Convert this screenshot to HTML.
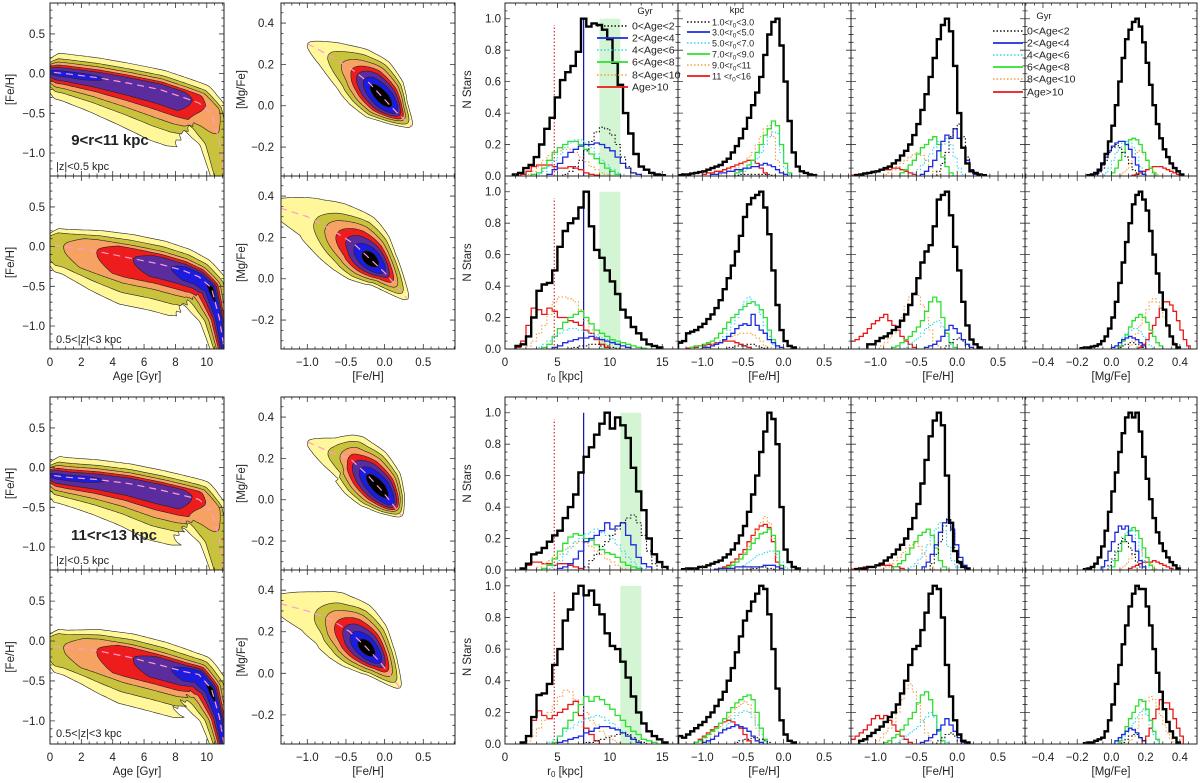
<!DOCTYPE html>
<html><head><meta charset="utf-8"><style>
html,body{margin:0;padding:0;background:#fff}
svg{display:block;font-family:"Liberation Sans",sans-serif}
</style></head><body>
<svg id="fig" width="1200" height="783" viewBox="0 0 1200 783" xmlns="http://www.w3.org/2000/svg"></svg>
<script>
// ---------------- histogram data: [all, age/r0 bin1..bin6] ----------------
const A1_start=[0.75,5.5,4.0,3.0,2.5,2.0,1.5];
const A1_series=[[0.01,0.02,0.05,0.07,0.12,0.2,0.3,0.37,0.5,0.61,0.66,0.7,0.79,1.0,0.95,0.97,0.96,0.93,0.87,0.72,0.58,0.4,0.27,0.14,0.06,0.04,0.02,0.01,0.005],
[0.01,0.03,0.06,0.1,0.16,0.22,0.28,0.31,0.3,0.26,0.2,0.12,0.06,0.02],
[0.01,0.04,0.08,0.12,0.15,0.17,0.19,0.2,0.2,0.21,0.2,0.18,0.16,0.12,0.08,0.05,0.02,0.01],
[0.01,0.03,0.06,0.1,0.14,0.18,0.21,0.23,0.23,0.21,0.18,0.14,0.1,0.07,0.04,0.02,0.01],
[0.01,0.02,0.05,0.1,0.15,0.18,0.2,0.22,0.22,0.2,0.17,0.14,0.11,0.08,0.05,0.03,0.01],
[0.01,0.03,0.06,0.1,0.13,0.15,0.16,0.17,0.17,0.15,0.12,0.09,0.06,0.04,0.02,0.01],
[0.01,0.03,0.06,0.07,0.07,0.07,0.06,0.05,0.05,0.06,0.05,0.04,0.02,0.01,0.005]];
const B1_start=[1.0,6.0,4.5,3.0,3.5,2.0,1.0];
const B1_series=[[0.02,0.03,0.08,0.2,0.37,0.41,0.42,0.5,0.65,0.75,0.8,0.83,0.9,1.0,0.78,0.63,0.58,0.5,0.43,0.35,0.25,0.2,0.14,0.1,0.06,0.03,0.02,0.01],
[0.005,0.01,0.02,0.02,0.03,0.03,0.02,0.02,0.01,0.005],
[0.01,0.02,0.04,0.05,0.06,0.07,0.07,0.08,0.07,0.06,0.05,0.04,0.03,0.02,0.01],
[0.01,0.03,0.05,0.08,0.1,0.12,0.13,0.13,0.12,0.11,0.1,0.09,0.07,0.06,0.05,0.03,0.02,0.01],
[0.01,0.03,0.08,0.13,0.17,0.2,0.22,0.24,0.2,0.16,0.12,0.1,0.08,0.06,0.05,0.04,0.03,0.02,0.01,0.005],
[0.02,0.05,0.1,0.15,0.22,0.3,0.33,0.33,0.32,0.3,0.25,0.18,0.12,0.08,0.05,0.03,0.01],
[0.01,0.05,0.15,0.26,0.25,0.22,0.26,0.24,0.2,0.2,0.18,0.17,0.15,0.12,0.1,0.06,0.03,0.01]];
const C1_start=[1.5,7.5,5.0,4.0,3.5,3.0,1.5];
const C1_series=[[0.01,0.04,0.1,0.11,0.14,0.18,0.22,0.25,0.33,0.4,0.48,0.62,0.72,0.78,0.86,0.93,1.0,0.9,0.97,0.92,0.84,0.65,0.5,0.38,0.2,0.1,0.05,0.02],
[0.02,0.06,0.1,0.15,0.18,0.22,0.26,0.3,0.33,0.35,0.3,0.22,0.12,0.04],
[0.01,0.02,0.04,0.07,0.12,0.18,0.2,0.22,0.25,0.3,0.26,0.28,0.3,0.22,0.16,0.08,0.04,0.02],
[0.01,0.03,0.06,0.1,0.14,0.18,0.2,0.23,0.24,0.26,0.24,0.22,0.2,0.16,0.12,0.08,0.05,0.02,0.01],
[0.01,0.03,0.07,0.12,0.17,0.21,0.23,0.22,0.2,0.19,0.16,0.13,0.11,0.1,0.08,0.05,0.03,0.02,0.01],
[0.02,0.04,0.06,0.08,0.1,0.13,0.15,0.17,0.18,0.17,0.15,0.12,0.1,0.07,0.05,0.03,0.01],
[0.01,0.03,0.05,0.05,0.04,0.04,0.03,0.04,0.04,0.03,0.02,0.01]];
const D1_start=[1.5,7.5,5.0,4.0,4.5,2.0,1.5];
const D1_series=[[0.01,0.05,0.17,0.31,0.32,0.38,0.5,0.6,0.78,0.85,0.95,1.0,0.94,0.97,0.88,0.82,0.7,0.62,0.6,0.52,0.42,0.3,0.2,0.13,0.08,0.05,0.03,0.01],
[0.01,0.01,0.02,0.03,0.04,0.05,0.06,0.07,0.06,0.04,0.02,0.01],
[0.01,0.02,0.03,0.04,0.05,0.07,0.08,0.1,0.11,0.11,0.1,0.09,0.07,0.05,0.03,0.01],
[0.01,0.03,0.05,0.08,0.1,0.12,0.14,0.16,0.17,0.18,0.17,0.15,0.13,0.1,0.08,0.05,0.03,0.01],
[0.01,0.05,0.1,0.15,0.2,0.25,0.3,0.27,0.3,0.28,0.25,0.22,0.18,0.15,0.11,0.08,0.06,0.03,0.02,0.01],
[0.02,0.05,0.1,0.15,0.2,0.25,0.3,0.34,0.33,0.28,0.25,0.2,0.15,0.12,0.08,0.05,0.03,0.01],
[0.01,0.05,0.15,0.21,0.18,0.16,0.18,0.2,0.22,0.25,0.27,0.18,0.1,0.06,0.02]];
const A2_start=[-1.3,-0.6,-0.9,-0.55,-0.6,-0.8,-1.0];
const A2_series=[[0.005,0.01,0.01,0.015,0.02,0.025,0.03,0.04,0.05,0.06,0.07,0.09,0.11,0.15,0.19,0.24,0.3,0.37,0.45,0.53,0.63,0.77,0.9,0.98,1.0,0.83,0.6,0.35,0.15,0.06,0.03,0.02,0.01,0.005],
[0.005,0.01,0.01,0.01,0.01,0.01,0.01,0.01,0.01,0.005],
[0.01,0.01,0.02,0.02,0.03,0.03,0.04,0.04,0.05,0.05,0.06,0.06,0.07,0.08,0.07,0.06,0.04,0.02,0.01],
[0.02,0.03,0.05,0.08,0.11,0.15,0.2,0.25,0.28,0.27,0.15,0.05,0.01],
[0.02,0.03,0.05,0.07,0.1,0.15,0.2,0.26,0.3,0.35,0.32,0.2,0.08,0.02],
[0.01,0.02,0.03,0.04,0.05,0.07,0.09,0.12,0.15,0.2,0.25,0.3,0.32,0.25,0.1,0.02],
[0.01,0.02,0.02,0.03,0.03,0.04,0.05,0.06,0.07,0.08,0.09,0.1,0.1,0.08,0.05,0.02]];
const B2_start=[-1.3,-0.7,-1.0,-0.95,-1.15,-1.0,-1.2];
const B2_series=[[0.04,0.05,0.1,0.11,0.12,0.14,0.16,0.19,0.22,0.26,0.31,0.38,0.45,0.53,0.62,0.72,0.84,0.92,0.96,0.98,1.0,0.9,0.73,0.5,0.28,0.12,0.05,0.02,0.01],
[0.01,0.01,0.02,0.02,0.02,0.03,0.03,0.02,0.01,0.005],
[0.01,0.01,0.02,0.03,0.04,0.06,0.08,0.1,0.13,0.15,0.16,0.15,0.22,0.15,0.12,0.1,0.06,0.04,0.02,0.01],
[0.01,0.02,0.03,0.05,0.08,0.12,0.16,0.2,0.25,0.3,0.33,0.3,0.28,0.22,0.15,0.08,0.03,0.01],
[0.01,0.02,0.02,0.03,0.04,0.05,0.07,0.1,0.13,0.17,0.2,0.22,0.25,0.27,0.29,0.3,0.28,0.25,0.2,0.12,0.06,0.02],
[0.01,0.02,0.03,0.04,0.05,0.06,0.07,0.08,0.09,0.1,0.1,0.1,0.09,0.07,0.05,0.02,0.01],
[0.005,0.01,0.01,0.02,0.02,0.03,0.03,0.04,0.04,0.05,0.05,0.05,0.04,0.03,0.02,0.01]];
const C2_start=[-1.25,-0.45,-0.85,-0.55,-0.75,-0.7,-0.8];
const C2_series=[[0.005,0.01,0.01,0.01,0.02,0.02,0.03,0.04,0.05,0.06,0.08,0.1,0.13,0.17,0.22,0.28,0.37,0.48,0.6,0.75,0.88,1.0,0.96,0.8,0.4,0.13,0.05,0.02,0.01],
[0.005,0.01,0.01,0.02,0.02,0.01,0.005],
[0.005,0.01,0.01,0.01,0.01,0.02,0.02,0.02,0.02,0.02,0.02,0.02,0.03,0.03,0.03,0.02,0.01],
[0.02,0.03,0.05,0.07,0.09,0.1,0.11,0.12,0.12,0.1,0.05,0.02],
[0.01,0.02,0.03,0.05,0.07,0.1,0.13,0.17,0.2,0.23,0.24,0.26,0.22,0.12,0.03],
[0.02,0.04,0.06,0.08,0.11,0.15,0.2,0.25,0.3,0.34,0.3,0.2,0.08,0.02],
[0.01,0.02,0.03,0.05,0.07,0.1,0.13,0.18,0.22,0.26,0.28,0.29,0.27,0.18,0.05]];
const D2_start=[-1.3,-0.6,-1.0,-0.95,-1.1,-1.0,-1.1];
const D2_series=[[0.05,0.04,0.06,0.08,0.1,0.12,0.14,0.17,0.2,0.24,0.28,0.33,0.4,0.48,0.58,0.68,0.78,0.84,0.9,0.95,1.0,0.98,0.82,0.6,0.35,0.15,0.06,0.02,0.01],
[0.01,0.02,0.03,0.03,0.04,0.04,0.03,0.02,0.01],
[0.01,0.02,0.03,0.05,0.07,0.09,0.1,0.11,0.12,0.11,0.1,0.08,0.05,0.02,0.01],
[0.01,0.03,0.05,0.07,0.1,0.13,0.16,0.18,0.2,0.21,0.2,0.17,0.12,0.06,0.02],
[0.01,0.02,0.04,0.06,0.08,0.1,0.13,0.16,0.2,0.23,0.26,0.28,0.3,0.31,0.28,0.2,0.1,0.03],
[0.02,0.04,0.06,0.08,0.11,0.14,0.17,0.2,0.23,0.25,0.27,0.25,0.2,0.1,0.03],
[0.01,0.03,0.05,0.07,0.09,0.11,0.13,0.14,0.15,0.14,0.12,0.1,0.06,0.02]];
const A3_start=[-1.25,-0.25,-0.45,-0.55,-0.7,-0.9,-1.3];
const A3_series=[[0.005,0.01,0.015,0.02,0.025,0.03,0.04,0.05,0.06,0.08,0.1,0.13,0.16,0.2,0.26,0.33,0.42,0.52,0.63,0.75,0.87,0.96,1.0,0.92,0.7,0.4,0.18,0.08,0.03,0.02,0.01,0.005],
[0.03,0.08,0.15,0.25,0.3,0.33,0.25,0.12,0.04],
[0.01,0.03,0.06,0.1,0.16,0.22,0.26,0.24,0.3,0.24,0.18,0.1,0.04,0.01],
[0.02,0.04,0.07,0.1,0.14,0.18,0.22,0.2,0.24,0.2,0.12,0.05,0.01],
[0.02,0.04,0.07,0.1,0.14,0.18,0.2,0.23,0.25,0.2,0.12,0.06,0.02],
[0.01,0.02,0.04,0.06,0.08,0.1,0.12,0.14,0.15,0.13,0.1,0.06,0.03,0.01],
[0.005,0.01,0.01,0.02,0.02,0.03,0.03,0.04,0.04,0.04,0.05,0.05,0.04,0.03,0.02,0.01]];
const B3_start=[-1.1,-0.15,-0.4,-0.65,-0.8,-0.95,-1.3];
const B3_series=[[0.03,0.03,0.05,0.07,0.08,0.1,0.12,0.14,0.18,0.22,0.28,0.35,0.45,0.55,0.62,0.66,0.78,0.95,0.98,1.0,0.85,0.65,0.5,0.3,0.15,0.06,0.03,0.01],
[0.02,0.04,0.06,0.07,0.05,0.02],
[0.01,0.02,0.03,0.05,0.08,0.12,0.15,0.13,0.1,0.06,0.03,0.01],
[0.01,0.03,0.05,0.07,0.1,0.13,0.15,0.17,0.18,0.14,0.08,0.03],
[0.01,0.02,0.04,0.06,0.08,0.11,0.14,0.18,0.24,0.3,0.33,0.3,0.2,0.1,0.04,0.01],
[0.02,0.04,0.07,0.1,0.14,0.2,0.27,0.33,0.36,0.34,0.28,0.2,0.12,0.05,0.02],
[0.05,0.06,0.08,0.1,0.13,0.16,0.18,0.2,0.22,0.18,0.15,0.12,0.08,0.05,0.03,0.01]];
const C3_start=[-1.25,-0.33,-0.43,-0.58,-0.78,-0.93,-1.3];
const C3_series=[[0.005,0.01,0.01,0.02,0.02,0.03,0.04,0.06,0.08,0.1,0.13,0.16,0.2,0.26,0.33,0.42,0.55,0.7,0.85,0.95,1.0,0.92,0.6,0.3,0.12,0.05,0.02,0.01],
[0.04,0.1,0.18,0.28,0.33,0.25,0.12,0.04],
[0.02,0.05,0.1,0.16,0.24,0.3,0.32,0.26,0.16,0.08,0.03],
[0.02,0.04,0.07,0.11,0.16,0.21,0.26,0.3,0.25,0.15,0.06,0.02],
[0.02,0.04,0.06,0.1,0.14,0.18,0.22,0.24,0.26,0.22,0.14,0.06,0.02],
[0.01,0.02,0.04,0.06,0.08,0.11,0.14,0.16,0.17,0.15,0.1,0.05,0.02],
[0.005,0.01,0.01,0.02,0.02,0.02,0.03,0.03,0.03,0.03,0.02,0.02,0.01]];
const D3_start=[-1.2,-0.25,-0.45,-0.75,-0.9,-1.0,-1.3];
const D3_series=[[0.02,0.03,0.05,0.07,0.09,0.11,0.14,0.17,0.2,0.25,0.32,0.4,0.5,0.6,0.62,0.72,0.83,0.95,1.0,0.98,0.8,0.5,0.3,0.15,0.06,0.02,0.01],
[0.02,0.04,0.06,0.07,0.05,0.02],
[0.01,0.02,0.04,0.06,0.09,0.12,0.16,0.12,0.08,0.04,0.01],
[0.01,0.03,0.05,0.07,0.09,0.11,0.14,0.17,0.2,0.17,0.1,0.04,0.01],
[0.01,0.02,0.04,0.06,0.09,0.12,0.16,0.2,0.26,0.31,0.33,0.28,0.18,0.08,0.02],
[0.02,0.04,0.07,0.1,0.14,0.2,0.28,0.35,0.38,0.33,0.25,0.15,0.07,0.02],
[0.03,0.05,0.07,0.09,0.12,0.16,0.18,0.16,0.18,0.15,0.12,0.08,0.05,0.03,0.01]];
const A4_start=[-0.14,-0.08,-0.1,-0.04,0.0,0.06,0.12];
const A4_series=[[0.005,0.01,0.02,0.04,0.08,0.14,0.22,0.32,0.45,0.6,0.75,0.87,0.93,0.98,1.0,0.95,0.85,0.72,0.58,0.45,0.33,0.24,0.17,0.12,0.08,0.05,0.03,0.01],
[0.02,0.05,0.1,0.15,0.18,0.2,0.18,0.15,0.12,0.08,0.04,0.02],
[0.01,0.03,0.07,0.12,0.16,0.19,0.21,0.22,0.22,0.2,0.17,0.12,0.07,0.03,0.01],
[0.02,0.05,0.1,0.15,0.18,0.21,0.22,0.21,0.18,0.12,0.06,0.02],
[0.02,0.05,0.1,0.15,0.2,0.23,0.24,0.23,0.2,0.15,0.1,0.05,0.02],
[0.02,0.04,0.08,0.12,0.15,0.16,0.14,0.1,0.06,0.03,0.01],
[0.005,0.01,0.02,0.03,0.04,0.05,0.06,0.06,0.06,0.05,0.04,0.03,0.02,0.01,0.005]];
const B4_start=[-0.18,0.04,0.0,0.02,0.04,0.1,0.16];
const B4_series=[[0.005,0.01,0.01,0.015,0.02,0.03,0.05,0.08,0.13,0.2,0.3,0.42,0.55,0.68,0.8,0.92,0.98,1.0,0.95,0.88,0.75,0.6,0.48,0.36,0.25,0.15,0.08,0.03,0.01],
[0.01,0.02,0.03,0.04,0.04,0.03,0.02,0.01],
[0.01,0.02,0.04,0.06,0.07,0.08,0.07,0.06,0.04,0.02],
[0.02,0.04,0.07,0.1,0.12,0.13,0.13,0.11,0.08,0.05,0.02],
[0.02,0.05,0.09,0.14,0.18,0.2,0.22,0.2,0.17,0.12,0.08,0.04,0.02],
[0.02,0.05,0.1,0.15,0.2,0.25,0.3,0.32,0.3,0.26,0.2,0.14,0.08,0.04,0.01],
[0.01,0.03,0.06,0.1,0.15,0.2,0.26,0.3,0.3,0.28,0.24,0.18,0.12,0.06,0.02]];
const C4_start=[-0.16,-0.02,-0.06,-0.02,0.0,0.06,0.1];
const C4_series=[[0.005,0.01,0.02,0.04,0.08,0.15,0.25,0.37,0.5,0.62,0.75,0.87,0.97,1.0,0.97,1.0,0.88,0.72,0.58,0.45,0.33,0.24,0.17,0.12,0.08,0.05,0.03,0.01],
[0.03,0.07,0.12,0.17,0.2,0.18,0.14,0.1,0.05,0.02],
[0.02,0.06,0.12,0.18,0.24,0.28,0.26,0.28,0.22,0.18,0.12,0.06,0.02],
[0.02,0.06,0.11,0.16,0.21,0.24,0.26,0.25,0.2,0.13,0.06,0.02],
[0.02,0.06,0.12,0.18,0.22,0.25,0.27,0.25,0.2,0.14,0.08,0.03],
[0.02,0.04,0.07,0.1,0.12,0.12,0.1,0.07,0.04,0.02],
[0.01,0.02,0.03,0.04,0.05,0.05,0.05,0.06,0.05,0.04,0.03,0.02,0.01]];
const D4_start=[-0.16,0.06,0.02,0.06,0.04,0.1,0.18];
const D4_series=[[0.005,0.01,0.01,0.02,0.03,0.04,0.08,0.15,0.25,0.38,0.5,0.63,0.75,0.87,0.95,1.0,0.98,0.98,0.87,0.75,0.6,0.45,0.33,0.22,0.14,0.08,0.04,0.01],
[0.01,0.03,0.05,0.06,0.06,0.04,0.02],
[0.02,0.04,0.06,0.08,0.1,0.09,0.07,0.04,0.02],
[0.02,0.05,0.09,0.13,0.17,0.2,0.22,0.18,0.12,0.06,0.02],
[0.02,0.06,0.11,0.16,0.2,0.24,0.28,0.27,0.22,0.15,0.08,0.03],
[0.02,0.05,0.1,0.16,0.22,0.27,0.3,0.28,0.24,0.18,0.12,0.07,0.03],
[0.02,0.05,0.1,0.16,0.22,0.28,0.26,0.26,0.22,0.16,0.1,0.05]];
// ---------------- contour ridge data ----------------
const ageA_age=[-0.5,1,3,5,7,8.5,9.5,10.3,10.8,11.2];
const ageA_feh=[0.03,0.0,-0.05,-0.12,-0.2,-0.3,-0.37,-0.5,-0.85,-1.4];
const ageB_feh=[0.03,0.0,-0.06,-0.14,-0.22,-0.3,-0.38,-0.52,-0.9,-1.4];
const ageC_feh=[-0.08,-0.12,-0.15,-0.2,-0.28,-0.35,-0.4,-0.55,-0.9,-1.4];
const ageD_feh=[-0.05,-0.08,-0.12,-0.2,-0.3,-0.38,-0.42,-0.6,-0.95,-1.4];
const mgA_feh=[-1.0,-0.7,-0.4,-0.2,0.0,0.15,0.35], mgA_mg=[0.3,0.24,0.17,0.11,0.03,-0.03,-0.1];
const mgB_feh=[-1.5,-1.0,-0.7,-0.4,-0.2,0.0,0.3], mgB_mg=[0.36,0.3,0.24,0.17,0.1,0.03,-0.1];
const mgC_feh=[-1.0,-0.7,-0.45,-0.25,-0.05,0.1,0.22], mgC_mg=[0.28,0.23,0.2,0.13,0.05,-0.02,-0.08];
const mgD_feh=[-1.5,-1.0,-0.7,-0.45,-0.25,-0.05,0.2], mgD_mg=[0.35,0.3,0.26,0.2,0.13,0.05,-0.07];

// ---------------- drawing ----------------
const NS="http://www.w3.org/2000/svg";
const svg=document.getElementById('fig');
function mk(tag,attrs,parent){const e=document.createElementNS(NS,tag);for(const k in attrs)e.setAttribute(k,attrs[k]);(parent||svg).appendChild(e);return e;}
function lin(d0,d1,p0,p1){return v=>p0+(v-d0)/(d1-d0)*(p1-p0);}
let clipId=0;
function panel(name,L,R,T,B,xr,yr){
  const g=mk('g',{});
  
  
  const id='c'+(clipId++);
  const cp=mk('clipPath',{id:id},g);mk('rect',{x:L,y:T,width:R-L,height:B-T},cp);
  const inner=mk('g',{'clip-path':'url(#'+id+')'},g);
  return {g,inner,L,R,T,B,x:lin(xr[0],xr[1],L,R),y:lin(yr[0],yr[1],B,T),xr,yr};
}
function frame(p,xmaj,xmin,ymaj,ymin){
  const g=p.g;let d='';
  const ticks=(r,step)=>{const a=[];for(let v=Math.ceil(r[0]/step-1e-9)*step;v<=r[1]+1e-9;v+=step)a.push(v);return a;};
  ticks(p.xr,xmin).forEach(v=>{const X=p.x(v);d+=`M${X},${p.B}v-2.5M${X},${p.T}v2.5`;});
  ticks(p.xr,xmaj).forEach(v=>{const X=p.x(v);d+=`M${X},${p.B}v-5M${X},${p.T}v5`;});
  ticks(p.yr,ymin).forEach(v=>{const Y=p.y(v);d+=`M${p.L},${Y}h2.5M${p.R},${Y}h-2.5`;});
  ticks(p.yr,ymaj).forEach(v=>{const Y=p.y(v);d+=`M${p.L},${Y}h5M${p.R},${Y}h-5`;});
  const t=mk('path',{d:d,stroke:'#333','stroke-width':0.8,fill:'none'},g);
  
  
  const r=mk('rect',{x:p.L,y:p.T,width:p.R-p.L,height:p.B-p.T,fill:'none',stroke:'#222','stroke-width':1},g);
  
  
}
function text(str,x,y,opt){
  opt=opt||{};
  const t=mk('text',{x:x,y:y,'font-size':opt.fs||11.5,'text-anchor':opt.a||'middle',fill:'#222','font-weight':opt.fw||'normal'});
  if(opt.rot!==undefined)t.setAttribute('transform',`rotate(${opt.rot} ${x} ${y})`);
  t.textContent=str;
  
  
  return t;
}
function fmt(v,dec){let s=v.toFixed(dec);if(Math.abs(v)<1e-9)s=(0).toFixed(dec);return s.replace('-','\u2212');}
function xlabels(p,vals,dec,y){vals.forEach(v=>text(fmt(v,dec),p.x(v),y,{name:'x-tick-label'}));}
function ylabels(p,vals,dec,x){vals.forEach(v=>text(fmt(v,dec),x,p.y(v)+4,{a:'end',name:'y-tick-label'}));}

const CONT_COLORS=['#fff79a','#c9c23c','#f6a262','#ee1d1d','#5a2c9e','#1c1ce0','#000000'];
function ribbon(p,xs,ys,up,lo,s0,s1,f,mode){
  const n=xs.length, P=xs.map((v,i)=>[p.x(v),p.y(ys[i])]);
  const pos=s=>{let u=Math.max(0,Math.min(1,s))*(n-1);let i=Math.min(n-2,Math.floor(u));let t=u-i;
    return [P[i][0]+(P[i+1][0]-P[i][0])*t,P[i][1]+(P[i+1][1]-P[i][1])*t,i,t];};
  const wv=(arr,i,t)=>arr[i]+(arr[i+1]-arr[i])*t;
  const top=[],bot=[];const N=120;
  for(let k=0;k<=N;k++){
    const s=s0+(s1-s0)*k/N;const a=pos(s),b=pos(s+0.04),c=pos(s-0.04);
    let dx=b[0]-c[0],dy=b[1]-c[1];const l=Math.hypot(dx,dy)||1;dx/=l;dy/=l;
    const nx=dy,ny=-dx;
    let tp;const u=(s-s0)/(s1-s0);
    if(mode==='lens')tp=Math.sqrt(Math.max(0,4*u*(1-u)));
    else tp=Math.sqrt(Math.max(0,Math.min(1,(s1-s)/0.07,s0<0?1:(s-s0)/0.07)));
    const wu=wv(up,a[2],a[3])*f*tp,wl=wv(lo,a[2],a[3])*f*tp;
    top.push([a[0]+nx*wu,a[1]+ny*wu]);bot.push([a[0]-nx*wl,a[1]-ny*wl]);
  }
  const pts=top.concat(bot.reverse());
  return 'M'+pts.map(q=>q[0].toFixed(1)+','+q[1].toFixed(1)).join('L')+'Z';
}
function contourPanel(p,xs,ys,up,lo,levels,mode){
  levels.forEach((lv,i)=>{
    if(!lv)return;
    const e=mk('path',{d:ribbon(p,xs,ys,up,lo,lv[0],lv[1],lv[2],mode),fill:CONT_COLORS[i],stroke:'#222','stroke-width':0.6,'stroke-linejoin':'round'},p.inner);
    
    
  });
  const ml=mk('polyline',{points:xs.map((v,i)=>p.x(v)+','+p.y(ys[i])).join(' '),fill:'none',stroke:'#ff9ad0','stroke-width':1.2,'stroke-dasharray':'7,5'},p.inner);
  
  
}
const SERIES_STYLE=[{c:'#000',w:2.4,d:''},{c:'#111',w:1.1,d:'1.5,2'},{c:'#1b2be0',w:1.3,d:''},{c:'#33d6f0',w:1.1,d:'1.5,2'},{c:'#2ee02e',w:1.3,d:''},{c:'#f5a040',w:1.1,d:'1.5,2'},{c:'#e81818',w:1.3,d:''}];
const DRAW_ORDER=[6,5,4,3,2,1,0];
function histPanel(p,starts,series,bw){
  DRAW_ORDER.forEach(si=>{
    const vals=series[si],st=starts[si],s=SERIES_STYLE[si];
    let d=`M${p.x(st)},${p.y(0)}`;
    vals.forEach((v,i)=>{d+=`L${p.x(st+i*bw).toFixed(1)},${p.y(v).toFixed(1)}L${p.x(st+(i+1)*bw).toFixed(1)},${p.y(v).toFixed(1)}`;});
    d+=`L${p.x(st+vals.length*bw).toFixed(1)},${p.y(0)}`;
    const e=mk('path',{d:d,fill:'none',stroke:s.c,'stroke-width':s.w,'stroke-dasharray':s.d},p.inner);
    
    
  });
}
const rowsY=[[3,176],[176,349],[397,570],[570,744]];
const rowTag=['A','B','C','D'];
const H_STARTS={A1:A1_start,B1:B1_start,C1:C1_start,D1:D1_start,A2:A2_start,B2:B2_start,C2:C2_start,D2:D2_start,A3:A3_start,B3:B3_start,C3:C3_start,D3:D3_start,A4:A4_start,B4:B4_start,C4:C4_start,D4:D4_start};
const H_SERIES={A1:A1_series,B1:B1_series,C1:C1_series,D1:D1_series,A2:A2_series,B2:B2_series,C2:C2_series,D2:D2_series,A3:A3_series,B3:B3_series,C3:C3_series,D3:D3_series,A4:A4_series,B4:B4_series,C4:C4_series,D4:D4_series};
const AGE_FEH={A:ageA_feh,B:ageB_feh,C:ageC_feh,D:ageD_feh};
const MG={A:[mgA_feh,mgA_mg],B:[mgB_feh,mgB_mg],C:[mgC_feh,mgC_mg],D:[mgD_feh,mgD_mg]};
const ageUpThin=[0.25,0.25,0.25,0.25,0.25,0.25,0.25,0.2,0.15,0.1],ageLoThin=[0.3,0.35,0.45,0.55,0.65,0.65,0.6,0.45,0.25,0.15];
const ageUpThick=[0.22,0.22,0.27,0.3,0.3,0.28,0.25,0.22,0.15,0.1],ageLoThick=[0.3,0.35,0.5,0.6,0.6,0.6,0.55,0.45,0.25,0.15];
const levelsThin=[[0,1.06,1],[0,1.06,0.72],[0,0.86,0.55],[0,0.72,0.4],[0,0.62,0.28],[0,0.25,0.12],null];
const levelsThick=[[0,1.06,1],[0,1.06,0.75],[0.1,1.06,0.55],[0.22,1.06,0.42],[0.35,1.06,0.3],[0.5,1.06,0.2],[0.74,0.83,0.12]];
const mgLevThin=[[0,1,1],[0.15,0.96,0.85],[0.25,0.92,0.72],[0.32,0.9,0.6],[0.38,0.87,0.5],[0.45,0.84,0.38],[0.52,0.76,0.22]];
const mgLevThick=[[0,1,1],[0.22,0.96,0.82],[0.3,0.92,0.68],[0.38,0.89,0.56],[0.45,0.86,0.45],[0.52,0.83,0.33],[0.6,0.76,0.2]];
const mgHwThin=[0.07,0.1,0.13,0.14,0.13,0.1,0.06],mgHwThick=[0.11,0.13,0.15,0.16,0.15,0.12,0.07];
const HC=[[505,678],[678,851],[851,1025],[1025,1197]];
rowsY.forEach((ry,ri)=>{
  const tag=rowTag[ri],T=ry[0],B=ry[1],thick=(ri%2===1),bottom=(ri%2===1);
  const pa=panel('age-feh-density-'+tag,50,224,T,B,[0,11.1],[-1.29,0.89]);
  const sc=78.7;
  contourPanel(pa,ageA_age,AGE_FEH[tag],(thick?ageUpThick:ageUpThin).map(v=>v*sc),(thick?ageLoThick:ageLoThin).map(v=>v*sc),thick?levelsThick:levelsThin,'ramp');
  frame(pa,2,0.5,0.5,0.1);
  ylabels(pa,[0.5,0,-0.5,-1.0],1,45);
  text('[Fe/H]',14,(T+B)/2,{rot:-90,name:'y-axis-title'});
  const pm=panel('mgfe-feh-density-'+tag,281,455,T,B,[-1.34,0.91],[-0.34,0.497]);
  contourPanel(pm,MG[tag][0],MG[tag][1],(thick?mgHwThick:mgHwThin).map(v=>v*206),(thick?mgHwThick:mgHwThin).map(v=>v*206),thick?mgLevThick:mgLevThin,'lens');
  frame(pm,0.5,0.1,0.2,0.05);
  ylabels(pm,[0.4,0.2,0,-0.2],1,274);
  text('[Mg/Fe]',245,(T+B)/2,{rot:-90,name:'y-axis-title'});
  const ranges=[[0,16.5],[-1.3,0.83],[-1.3,0.83],[-0.505,0.5]];
  const bws=[0.5,0.05,0.05,0.02];
  const names=['r0','feh-by-r0','feh-by-age','mgfe-by-age'];
  const mj=[[5,1],[0.5,0.1],[0.5,0.1],[0.2,0.05]];
  HC.forEach((c,ci)=>{
    const ph=panel('hist-'+names[ci]+'-'+tag,c[0],c[1],T,B,ranges[ci],[0,1.1]);
    if(ci===0){
      const band=(ri<2)?[9,11]:[11,13];
      const bd=mk('rect',{x:ph.x(band[0]),y:ph.y(1.0),width:ph.x(band[1])-ph.x(band[0]),height:ph.y(0)-ph.y(1.0),fill:'#d4f5d4'},ph.inner);
      
      
      const rl=mk('line',{x1:ph.x(4.7),x2:ph.x(4.7),y1:ph.y(0),y2:ph.y(0.96),stroke:'#e03030','stroke-width':1.2,'stroke-dasharray':'1.5,2'},ph.inner);
      
      
      const sl=mk('line',{x1:ph.x(7.5),x2:ph.x(7.5),y1:ph.y(0),y2:ph.y(1.0),stroke:'#1010a0','stroke-width':1.2},ph.inner);
      
      
    }
    histPanel(ph,H_STARTS[tag+(ci+1)],H_SERIES[tag+(ci+1)],bws[ci]);
    frame(ph,mj[ci][0],mj[ci][1],0.2,0.05);
    if(ci===0){ylabels(ph,[0,0.2,0.4,0.6,0.8,1.0],1,501);text('N Stars',471,(T+B)/2,{rot:-90,name:'y-axis-title'});}
    if(bottom){
      const yy=B+17;
      if(ci===0)xlabels(ph,[0,5,10,15],0,yy);
      if(ci===1||ci===2)xlabels(ph,[-1.0,-0.5,0,0.5],1,yy);
      if(ci===3)xlabels(ph,[-0.4,-0.2,0,0.2,0.4],1,yy);
    }
  });
  if(bottom){
    const yy=B+17;
    xlabels(pa,[0,2,4,6,8,10],0,yy);
    xlabels(pm,[-1.0,-0.5,0,0.5],1,yy);
    text('Age  [Gyr]',137,B+31,{name:'x-axis-title'});
    text('[Fe/H]',368,B+31,{name:'x-axis-title'});
    const t=text('',565,B+31,{name:'x-axis-title'});t.innerHTML='r<tspan font-size="8" dy="2">0</tspan><tspan dy="-2"> [kpc]</tspan>';
    text('[Fe/H]',764,B+31,{name:'x-axis-title'});
    text('[Fe/H]',938,B+31,{name:'x-axis-title'});
    text('[Mg/Fe]',1111,B+31,{name:'x-axis-title'});
  }
});
text('9<r<11 kpc',110,145,{fs:15,fw:'bold',name:'radius-range-label'});
text('|z|<0.5 kpc',56,170,{fs:11,a:'start',name:'height-range-label'});
text('0.5<|z|<3 kpc',56,343,{fs:11,a:'start',name:'height-range-label'});
text('11<r<13 kpc',114,540,{fs:15,fw:'bold',name:'radius-range-label'});
text('|z|<0.5 kpc',56,564,{fs:11,a:'start',name:'height-range-label'});
text('0.5<|z|<3 kpc',56,737,{fs:11,a:'start',name:'height-range-label'});
function legend(x0,x1,tx,ys,labels,header,hx,hy,sub){
  text(header,hx,hy,{fs:9.5,name:'legend-title'});
  labels.forEach((lab,i)=>{
    const s=SERIES_STYLE[i+1];
    const l=mk('line',{x1:x0,x2:x1,y1:ys[i],y2:ys[i],stroke:s.c,'stroke-width':s.w+0.4,'stroke-dasharray':s.d});
    
    
    const t=text('',tx,ys[i]+3.5,{fs:sub?9:10.5,a:'start',name:'legend-entry'});
    if(sub){t.innerHTML=lab[0]+'&lt;r<tspan font-size="6.5" dy="2">0</tspan><tspan dy="-2">&lt;'+lab[1]+'</tspan>';}
    else t.textContent=lab;
  });
}
const ageLabels=['0<Age<2','2<Age<4','4<Age<6','6<Age<8','8<Age<10','Age>10'];
legend(597,628,632,[26,38,50,62,75,87],ageLabels,'Gyr',645,14,false);
legend(687,710,712,[22,32,43,54,65,76],[['1.0','3.0'],['3.0','5.0'],['5.0','7.0'],['7.0','9.0'],['9.0','11'],['11 ','16']],'kpc',737,13,true);
legend(993,1023,1027,[31,43,55,67,79,92],ageLabels,'Gyr',1044,19,false);
</script>
</body></html>
